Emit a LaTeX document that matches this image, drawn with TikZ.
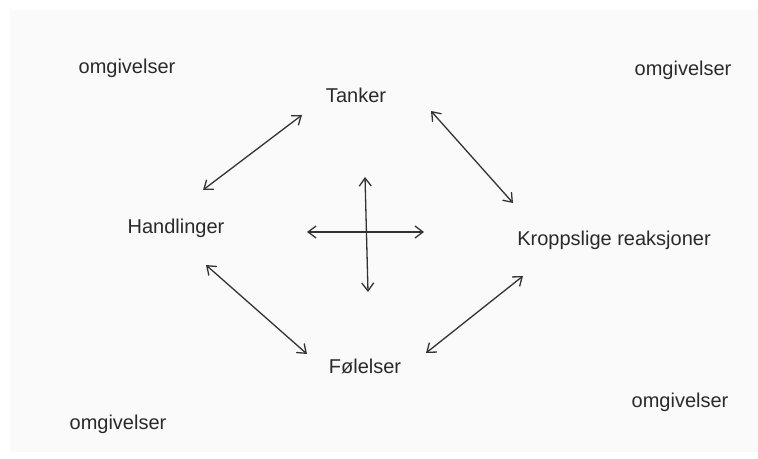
\documentclass[tikz,border=0pt]{standalone}
\usepackage{fontspec}
\setmainfont{Liberation Sans}
\usepackage{tikz}
\usetikzlibrary{arrows.meta}

\begin{document}
\begin{tikzpicture}[x=0.5pt, y=0.5pt]

% Farger
\definecolor{colPaper}{HTML}{FAFAFA}
\definecolor{colInk}{HTML}{2A2A2A}
\definecolor{colLine}{HTML}{333333}

% Stiler
\tikzset{
  ord/.style={font=\fontsize{10}{12}\selectfont, text=colInk, inner sep=1pt},
  pil/.style={draw=colLine, line width=0.65pt, {Straight Barb[length=4pt,width=6pt]}-{Straight Barb[length=4pt,width=6pt]}}
}

% Ark
\fill[white] (0,0) rectangle (758,459);
\fill[colPaper] (10,7) rectangle (758,449);
\useasboundingbox (0,0) rectangle (758,459);

% Hjorner: omgivelser
\node[ord] (omgA) at (127,391) {omgivelser};
\node[ord] (omgB) at (683,389) {omgivelser};
\node[ord] (omgC) at (118,35) {omgivelser};
\node[ord] (omgD) at (680,57) {omgivelser};

% Hovedbegreper
\node[ord] (tanker) at (356,364) {Tanker};
\node[ord] (handl) at (176,231) {Handlinger};
\node[ord] (krop) at (614,219) {Kroppslige reaksjoner};
\node[ord] (foel) at (365,93) {Følelser};

% Piler mellom begrepene
\draw[pil] ([shift={(-54,-20)}]tanker.center) -- ([shift={(27,38)}]handl.center);
\draw[pil] ([shift={(75,-16)}]tanker.center) -- ([shift={(-101,37)}]krop.center);
\draw[pil] ([shift={(30,-37)}]handl.center) -- ([shift={(-58,12)}]foel.center);
\draw[pil] ([shift={(-91,-36)}]krop.center) -- ([shift={(61,13)}]foel.center);

% Kors i midten
\coordinate (kV) at (307,227);
\coordinate (kH) at (424,227);
\coordinate (kO) at (365,282);
\coordinate (kN) at (368,167);
\draw[pil] (kV) -- (kH);
\draw[pil] (kO) -- (kN);

\end{tikzpicture}
\end{document}
